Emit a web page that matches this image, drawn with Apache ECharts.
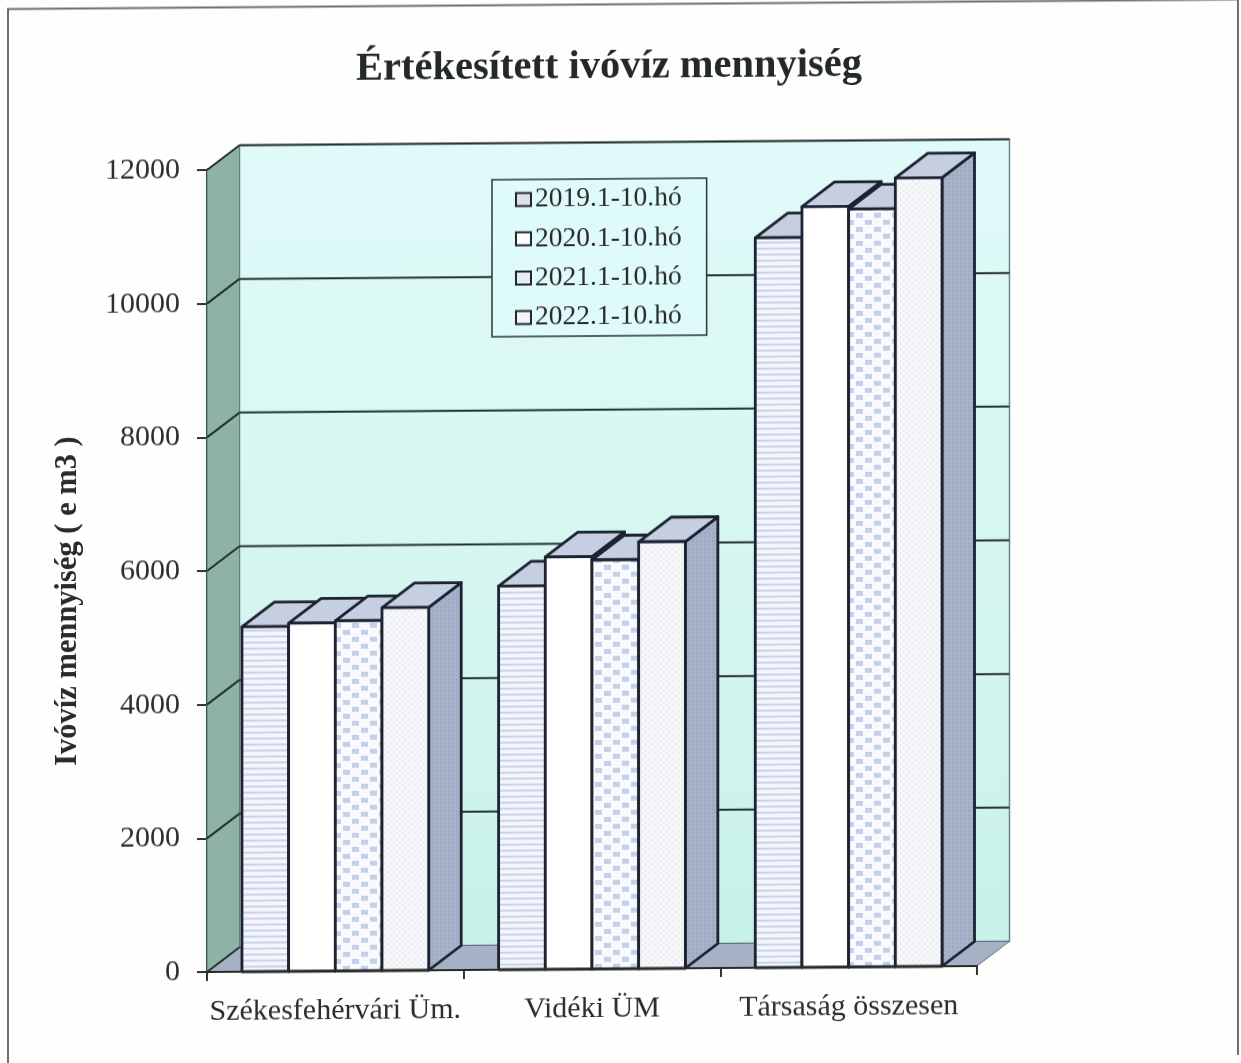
<!DOCTYPE html>
<html>
<head>
<meta charset="utf-8">
<script src="https://cdn.jsdelivr.net/npm/echarts@6/dist/echarts.min.js"></script>
<style>
html,body{margin:0;padding:0;background:#fefefd;overflow:hidden}
/* the scanned page is sheared slightly: everything rises to the right */
#chart{width:1241px;height:1063px;transform-origin:207px 972px;transform:skewY(-0.446deg)}
</style>
</head>
<body>
<div id="chart"></div>
<script>
const titleText = 'Értékesített ivóvíz mennyiség';
const yAxisTitle = 'Ivóvíz mennyiség ( e m3 )';
const categories = ['Székesfehérvári Üm.', 'Vidéki ÜM', 'Társaság összesen'];
const seriesNames = ['2019.1-10.hó', '2020.1-10.hó', '2021.1-10.hó', '2022.1-10.hó'];
const values2019 = [5160, 5740, 10920];
const values2020 = [5210, 6170, 11380];
const values2021 = [5240, 6120, 11340];
const values2022 = [5430, 6385, 11800];
const yTicks = [0, 2000, 4000, 6000, 8000, 10000, 12000];

const FONT = '"Liberation Serif","Times New Roman",serif';
const DX = 32.5, DY = 24.5;
const DARK = '#1b2230';

function pattern(w, h, bg, draw) {
  const c = document.createElement('canvas');
  c.width = w; c.height = h;
  const g = c.getContext('2d');
  g.fillStyle = bg; g.fillRect(0, 0, w, h);
  draw(g);
  return {image: c, repeat: 'repeat'};
}
const fillStripes = pattern(8, 6, '#f3f5fb', g => { g.fillStyle = '#cbd3ea'; g.fillRect(0, 0, 8, 2); });
const fillWhite = '#ffffff';
const fillChecks = pattern(18, 14, '#f8fafd', g => {
  g.fillStyle = '#c3d0e9';
  g.fillRect(1, 1, 7, 5); g.fillRect(10, 8, 7, 5);
});
const fillDots = pattern(6, 6, '#f6f7f8', g => {
  g.fillStyle = '#dde1ea';
  g.fillRect(0, 0, 1.5, 1.5); g.fillRect(3, 3, 1.5, 1.5);
});
const fills = [fillStripes, fillWhite, fillChecks, fillDots];
const sideFill = pattern(4, 4, '#a6b2c8', g => { g.fillStyle = '#9ba8c0'; g.fillRect(0, 0, 2, 2); });
const topFill = '#c6cfe1';

function poly(points, style) {
  return {type: 'polygon', shape: {points: points}, style: style};
}

function renderRoom(params, api) {
  const size = api.size([1, 0]);
  const x0 = api.coord([0, 0])[0] - size[0] / 2;
  const x1 = api.coord([categories.length - 1, 0])[0] + size[0] / 2;
  const y0 = api.coord([0, 0])[1];
  const yT = api.coord([0, yTicks[yTicks.length - 1]])[1];
  return {type: 'group', silent: true, children: [
    poly([[x0 + DX, yT - DY], [x1 + DX, yT - DY], [x1 + DX, y0 - DY], [x0 + DX, y0 - DY]], {
      fill: {type: 'linear', x: 0, y: 0, x2: 0, y2: 1, colorStops: [
        {offset: 0, color: '#e0faf9'}, {offset: 0.55, color: '#d5f6f0'}, {offset: 1, color: '#c8f1e8'}]},
      stroke: '#6f838c', lineWidth: 1.5}),
    poly([[x0, yT], [x0 + DX, yT - DY], [x0 + DX, y0 - DY], [x0, y0]], {fill: '#8fb2a6', stroke: '#5e7f75', lineWidth: 1}),
    poly([[x0, y0], [x0 + DX, y0 - DY], [x1 + DX, y0 - DY], [x1, y0]], {fill: '#a5b1c4', stroke: '#5f6d80', lineWidth: 1})
  ]};
}

function renderGrid(params, api) {
  const size = api.size([1, 0]);
  const x0 = api.coord([0, 0])[0] - size[0] / 2;
  const x1 = api.coord([categories.length - 1, 0])[0] + size[0] / 2;
  const y = api.coord([0, api.value(0)])[1];
  const isBase = api.value(0) === 0;
  const st = {stroke: '#24302f', lineWidth: 2, fill: null};
  const kids = [{type: 'line', shape: {x1: x0, y1: y, x2: x0 + DX, y2: y - DY}, style: st}];
  if (!isBase) kids.push({type: 'line', shape: {x1: x0 + DX, y1: y - DY, x2: x1 + DX, y2: y - DY}, style: st});
  return {type: 'group', silent: true, children: kids};
}

function makeBarRenderer(seriesIndex) {
  return function (params, api) {
    const cat = api.value(0), val = api.value(1);
    const band = api.size([1, 0])[0];
    const groupW = band * 0.7276;
    const w = groupW / seriesNames.length;
    const base = api.coord([cat, 0]);
    const top = api.coord([cat, val]);
    const l = base[0] - groupW / 2 + seriesIndex * w;
    const r = l + w, yB = base[1], yT = top[1];
    const st = {stroke: DARK, lineWidth: 2.8, lineJoin: 'round'};
    return {type: 'group', children: [
      poly([[r, yB], [r + DX, yB - DY], [r + DX, yT - DY], [r, yT]], Object.assign({fill: sideFill}, st)),
      poly([[l, yT], [l + DX, yT - DY], [r + DX, yT - DY], [r, yT]], Object.assign({fill: topFill}, st)),
      poly([[l, yB], [l, yT], [r, yT], [r, yB]], Object.assign({fill: fills[seriesIndex]}, st))
    ]};
  };
}

function toPairs(arr) { return arr.map((v, i) => [i, v]); }
const allValues = [values2019, values2020, values2021, values2022];
const legendColors = ['#dde2ec', '#ffffff', '#e8edf5', '#f2f4f6'];

const chart = echarts.init(document.getElementById('chart'), null, {renderer: 'canvas'});
chart.setOption({
  animation: false,
  backgroundColor: 'transparent',
  textStyle: {fontFamily: FONT},
  title: {
    text: titleText, left: 604, top: 45, textAlign: 'center',
    textStyle: {fontFamily: FONT, fontSize: 40.5, fontWeight: 'bold', color: '#232828'}
  },
  graphic: [{
    type: 'rect', z: -1, silent: true,
    shape: {x: 8, y: 7.5, width: 1230, height: 1061.5},
    style: {fill: 'none', stroke: '#6e6e6e', lineWidth: 2}
  }],
  legend: {
    orient: 'vertical', left: 492, top: 182, selectedMode: false,
    backgroundColor: '#dffafa', borderColor: '#2a3434', borderWidth: 1.5, borderRadius: 0,
    padding: [6, 25, 5, 23], itemWidth: 15, itemHeight: 13, itemGap: 11.3, icon: 'rect',
    textStyle: {fontFamily: FONT, fontSize: 27.5, color: '#2a2a2a', lineHeight: 28, padding: [0, 0, 0, -1]},
    data: seriesNames.map((n, i) => ({name: n, itemStyle: {color: legendColors[i], borderColor: '#20262c', borderWidth: 2}}))
  },
  grid: {left: 207, right: 264, top: 170, bottom: 91, containLabel: false},
  xAxis: {
    type: 'category', data: categories, boundaryGap: true, z: 5,
    axisLine: {lineStyle: {color: '#2a2a2a', width: 2}},
    axisTick: {show: true, alignWithLabel: false, length: 9, lineStyle: {color: '#333', width: 2}},
    axisLabel: {interval: 0, fontFamily: FONT, fontSize: 30, color: '#2d2d2d', margin: 25}
  },
  yAxis: {
    type: 'value', min: 0, max: 12000, interval: 2000,
    name: yAxisTitle, nameLocation: 'middle', nameGap: 123,
    nameTextStyle: {fontFamily: FONT, fontSize: 30.5, fontWeight: 'bold', color: '#2a2a2a', padding: [0, 58, 0, 0]},
    axisLine: {show: true, lineStyle: {color: '#16201f', width: 3}},
    axisTick: {show: true, length: 10, lineStyle: {color: '#333', width: 2}},
    axisLabel: {fontFamily: FONT, fontSize: 30, color: '#2d2d2d', margin: 27, padding: [7, 0, 0, 0], formatter: v => String(v)},
    splitLine: {show: false}
  },
  series: [
    {type: 'custom', name: 'room', coordinateSystem: 'cartesian2d', clip: false, silent: true, z: 1,
     renderItem: renderRoom, data: [[0, 0]], encode: {x: 0, y: 1}, tooltip: {show: false}},
    {type: 'custom', name: 'grid', coordinateSystem: 'cartesian2d', clip: false, silent: true, z: 1.5,
     renderItem: renderGrid, data: yTicks.map(t => [t]), encode: {y: 0}, tooltip: {show: false}}
  ].concat(seriesNames.map((name, i) => ({
    type: 'custom', name: name, coordinateSystem: 'cartesian2d', clip: false, z: 2 + i * 0.1,
    renderItem: makeBarRenderer(i), encode: {x: 0, y: 1}, data: toPairs(allValues[i])
  })))
});
</script>
</body>
</html>
